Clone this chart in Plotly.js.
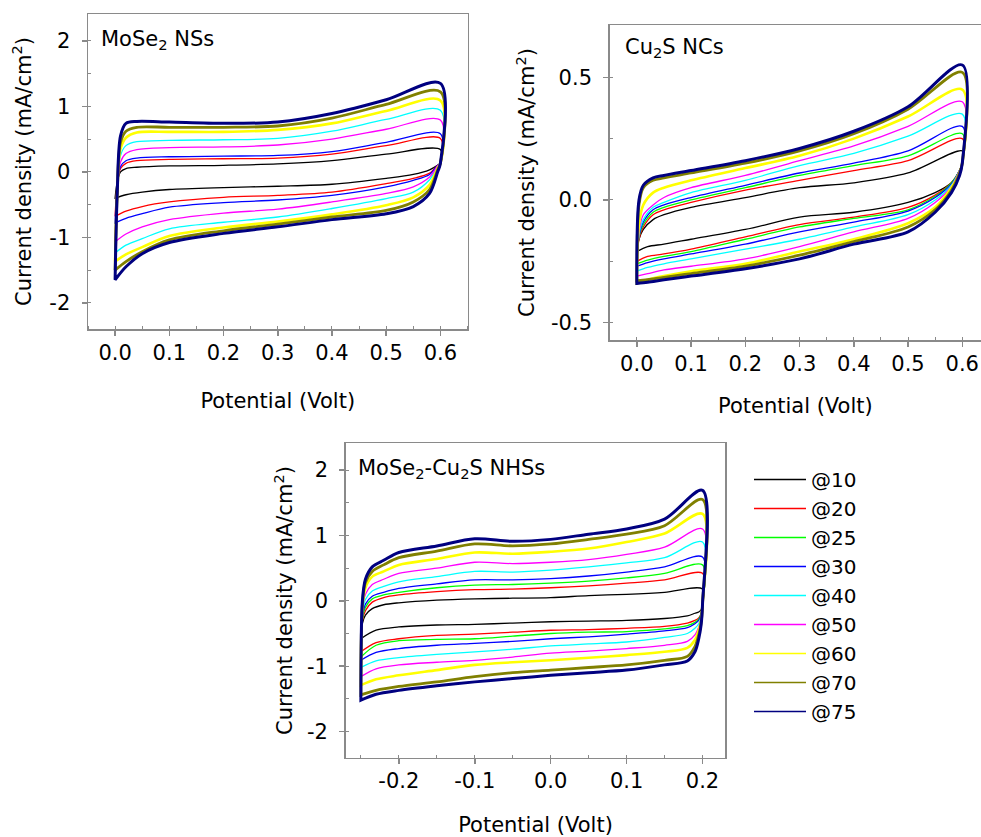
<!DOCTYPE html>
<html>
<head>
<meta charset="utf-8">
<script src="https://cdn.plot.ly/plotly-3.0.1.min.js"></script>
<style>html,body{margin:0;padding:0;background:#fff;}#chart{width:981px;height:837px;}</style>
</head>
<body>
<div id="chart"></div>
<script>
// ---------- shared ----------
const rates = ["@10", "@20", "@25", "@30", "@40", "@50", "@60", "@70", "@75"];
const colors = ["#000000", "#ff0000", "#00ff00", "#0000ff", "#00ffff", "#ff00ff", "#ffff00", "#808000", "#000080"];

// tick labels (hyphen minus as in the original)
const xTicks01 = [0, 0.1, 0.2, 0.3, 0.4, 0.5, 0.6];
const xLabels01 = ["0.0", "0.1", "0.2", "0.3", "0.4", "0.5", "0.6"];
const xTicks3 = [-0.2, -0.1, 0, 0.1, 0.2];
const xLabels3 = ["-0.2", "-0.1", "0.0", "0.1", "0.2"];
const yTicks13 = [-2, -1, 0, 1, 2];
const yLabels13 = ["-2", "-1", "0", "1", "2"];
const yTicks2 = [-0.5, 0, 0.5];
const yLabels2 = ["-0.5", "0.0", "0.5"];

// ---------- Panel 1: MoSe2 NSs (no @25 curve visible) ----------
const p1UpX = [0, 0.004, 0.01, 0.02, 0.04, 0.1, 0.2, 0.3, 0.4, 0.5, 0.6];
const p1DnX = [0.6, 0.595, 0.58, 0.55, 0.5, 0.4, 0.3, 0.2, 0.1, 0.05, 0.02, 0];
const p1Up = {
  "@10": [-0.40, -0.15, 0.00, 0.05, 0.07, 0.09, 0.10, 0.12, 0.17, 0.27, 0.34],
  "@20": [-0.68, -0.20, 0.05, 0.13, 0.17, 0.19, 0.20, 0.21, 0.27, 0.40, 0.51],
  "@30": [-0.78, -0.20, 0.08, 0.17, 0.21, 0.23, 0.24, 0.25, 0.31, 0.45, 0.58],
  "@40": [-1.24, -0.30, 0.25, 0.40, 0.46, 0.48, 0.49, 0.51, 0.62, 0.80, 0.94],
  "@50": [-1.07, -0.30, 0.15, 0.28, 0.34, 0.37, 0.38, 0.41, 0.50, 0.65, 0.79],
  "@60": [-1.37, -0.30, 0.35, 0.52, 0.60, 0.61, 0.61, 0.64, 0.74, 0.93, 1.09],
  "@70": [-1.50, -0.30, 0.45, 0.62, 0.68, 0.68, 0.68, 0.70, 0.82, 1.03, 1.22],
  "@75": [-1.65, -0.30, 0.55, 0.74, 0.77, 0.76, 0.74, 0.76, 0.89, 1.10, 1.35]
};
const p1Dn = {
  "@10": [0.13, 0.10, 0.03, -0.04, -0.10, -0.19, -0.22, -0.24, -0.27, -0.31, -0.35, -0.40],
  "@20": [0.13, 0.10, -0.02, -0.10, -0.18, -0.31, -0.36, -0.39, -0.46, -0.53, -0.60, -0.68],
  "@30": [0.13, 0.10, -0.04, -0.13, -0.23, -0.36, -0.43, -0.47, -0.54, -0.64, -0.71, -0.78],
  "@40": [0.13, 0.08, -0.12, -0.31, -0.41, -0.56, -0.69, -0.77, -0.87, -1.02, -1.12, -1.24],
  "@50": [0.13, 0.09, -0.08, -0.23, -0.33, -0.46, -0.57, -0.63, -0.73, -0.84, -0.95, -1.07],
  "@60": [0.13, 0.06, -0.20, -0.39, -0.51, -0.65, -0.76, -0.85, -0.98, -1.15, -1.26, -1.37],
  "@70": [0.13, 0.03, -0.27, -0.46, -0.59, -0.69, -0.80, -0.90, -1.04, -1.22, -1.37, -1.50],
  "@75": [0.13, 0.00, -0.33, -0.53, -0.64, -0.73, -0.84, -0.94, -1.08, -1.25, -1.45, -1.65]
};

// ---------- Panel 2: Cu2S NCs ----------
const p2UpX = [0, 0.004, 0.012, 0.03, 0.05, 0.1, 0.2, 0.3, 0.4, 0.5, 0.6];
const p2DnX = [0.6, 0.595, 0.58, 0.55, 0.5, 0.4, 0.3, 0.2, 0.1, 0.05, 0.02, 0];
const p2Up = {
  "@10": [-0.21, -0.16, -0.12, -0.08, -0.06, -0.03, 0.01, 0.05, 0.07, 0.11, 0.20],
  "@20": [-0.25, -0.16, -0.11, -0.06, -0.04, -0.01, 0.04, 0.08, 0.12, 0.16, 0.25],
  "@25": [-0.26, -0.15, -0.10, -0.05, -0.03, 0.00, 0.05, 0.10, 0.14, 0.18, 0.27],
  "@30": [-0.27, -0.15, -0.09, -0.04, -0.02, 0.01, 0.06, 0.11, 0.15, 0.20, 0.30],
  "@40": [-0.29, -0.14, -0.08, -0.03, -0.01, 0.03, 0.08, 0.14, 0.19, 0.26, 0.35],
  "@50": [-0.31, -0.13, -0.06, -0.02, 0.01, 0.05, 0.10, 0.16, 0.22, 0.30, 0.40],
  "@60": [-0.34, -0.10, -0.02, 0.03, 0.05, 0.08, 0.13, 0.18, 0.25, 0.34, 0.45],
  "@70": [-0.33, -0.02, 0.05, 0.08, 0.09, 0.11, 0.15, 0.20, 0.27, 0.37, 0.52],
  "@75": [-0.34, 0.00, 0.06, 0.09, 0.10, 0.12, 0.16, 0.21, 0.28, 0.38, 0.55]
};
const p2Dn = {
  "@10": [0.15, 0.12, 0.07, 0.03, -0.01, -0.05, -0.07, -0.12, -0.16, -0.18, -0.19, -0.21],
  "@20": [0.15, 0.12, 0.07, 0.02, -0.03, -0.07, -0.10, -0.15, -0.20, -0.22, -0.23, -0.25],
  "@25": [0.15, 0.12, 0.07, 0.015, -0.04, -0.075, -0.11, -0.16, -0.21, -0.23, -0.245, -0.26],
  "@30": [0.15, 0.12, 0.065, 0.01, -0.045, -0.09, -0.13, -0.18, -0.22, -0.24, -0.255, -0.27],
  "@40": [0.15, 0.12, 0.06, 0.00, -0.06, -0.11, -0.16, -0.20, -0.24, -0.26, -0.275, -0.29],
  "@50": [0.15, 0.12, 0.055, -0.01, -0.075, -0.13, -0.19, -0.24, -0.27, -0.285, -0.30, -0.31],
  "@60": [0.15, 0.11, 0.05, -0.03, -0.095, -0.16, -0.21, -0.26, -0.29, -0.31, -0.325, -0.34],
  "@70": [0.15, 0.11, 0.04, -0.04, -0.11, -0.17, -0.225, -0.27, -0.30, -0.315, -0.325, -0.33],
  "@75": [0.15, 0.10, 0.03, -0.05, -0.13, -0.18, -0.24, -0.28, -0.31, -0.325, -0.335, -0.34]
};

// ---------- Panel 3: MoSe2-Cu2S NHSs ----------
const p3UpX = [-0.25, -0.248, -0.244, -0.235, -0.22, -0.2, -0.15, -0.1, -0.05, 0, 0.05, 0.1, 0.15, 0.2];
const p3DnX = [0.2, 0.198, 0.195, 0.19, 0.18, 0.15, 0.1, 0.05, 0, -0.05, -0.1, -0.15, -0.2, -0.23, -0.25];
const p3Up = {
  "@10": [-0.58, -0.35, -0.22, -0.12, -0.06, -0.03, 0.01, 0.03, 0.04, 0.05, 0.08, 0.10, 0.13, 0.18],
  "@20": [-0.78, -0.30, -0.15, -0.02, 0.05, 0.09, 0.14, 0.17, 0.18, 0.20, 0.23, 0.27, 0.32, 0.42],
  "@25": [-0.86, -0.28, -0.10, 0.03, 0.09, 0.13, 0.20, 0.24, 0.25, 0.27, 0.30, 0.35, 0.42, 0.55],
  "@30": [-0.91, -0.25, -0.05, 0.07, 0.13, 0.19, 0.26, 0.32, 0.32, 0.34, 0.38, 0.44, 0.52, 0.67],
  "@40": [-1.02, -0.20, 0.02, 0.15, 0.22, 0.29, 0.37, 0.45, 0.44, 0.47, 0.52, 0.58, 0.66, 0.90],
  "@50": [-1.16, -0.15, 0.10, 0.25, 0.33, 0.42, 0.50, 0.59, 0.57, 0.59, 0.63, 0.71, 0.82, 1.10],
  "@60": [-1.29, -0.10, 0.20, 0.37, 0.45, 0.55, 0.64, 0.74, 0.72, 0.75, 0.80, 0.90, 1.03, 1.33],
  "@70": [-1.44, -0.05, 0.28, 0.45, 0.55, 0.66, 0.76, 0.87, 0.84, 0.87, 0.94, 1.02, 1.15, 1.55],
  "@75": [-1.52, 0.00, 0.33, 0.52, 0.62, 0.74, 0.84, 0.95, 0.91, 0.94, 1.02, 1.10, 1.25, 1.69]
};
const p3Dn = {
  "@10": [-0.05, -0.14, -0.17, -0.19, -0.23, -0.27, -0.30, -0.31, -0.32, -0.34, -0.36, -0.37, -0.40, -0.45, -0.58],
  "@20": [-0.05, -0.20, -0.26, -0.30, -0.34, -0.39, -0.42, -0.44, -0.45, -0.48, -0.51, -0.53, -0.58, -0.64, -0.78],
  "@25": [-0.05, -0.20, -0.28, -0.33, -0.38, -0.43, -0.47, -0.48, -0.50, -0.54, -0.58, -0.59, -0.61, -0.68, -0.86],
  "@30": [-0.05, -0.22, -0.30, -0.35, -0.41, -0.46, -0.51, -0.55, -0.58, -0.62, -0.65, -0.68, -0.73, -0.79, -0.91],
  "@40": [-0.05, -0.25, -0.35, -0.42, -0.50, -0.56, -0.63, -0.66, -0.69, -0.74, -0.78, -0.82, -0.87, -0.92, -1.02],
  "@50": [-0.05, -0.28, -0.40, -0.52, -0.62, -0.68, -0.73, -0.77, -0.80, -0.86, -0.91, -0.94, -0.98, -1.04, -1.16],
  "@60": [-0.05, -0.30, -0.45, -0.60, -0.72, -0.78, -0.83, -0.87, -0.91, -0.94, -0.98, -1.06, -1.14, -1.20, -1.29],
  "@70": [-0.05, -0.35, -0.52, -0.70, -0.85, -0.91, -0.98, -1.02, -1.06, -1.10, -1.16, -1.24, -1.31, -1.37, -1.44],
  "@75": [-0.05, -0.38, -0.58, -0.78, -0.92, -0.98, -1.06, -1.10, -1.14, -1.19, -1.24, -1.30, -1.37, -1.43, -1.52]
};

// ---------- build ----------
const FONT = "DejaVu Sans, Verdana, sans-serif";
const widths = {"@60": 2.6, "@70": 2.8, "@75": 3.0};
function loops(upX, dnX, up, dn, xa, ya) {
  const out = [];
  rates.forEach((r, i) => {
    if (!up[r]) return;
    out.push({
      type: "scatter", mode: "lines", name: r,
      x: upX.concat(dnX, [upX[0]]),
      y: up[r].concat(dn[r], [up[r][0]]),
      xaxis: xa, yaxis: ya,
      line: {color: colors[i], width: widths[r] || 1.3, shape: "spline", smoothing: 0.9},
      showlegend: false, hoverinfo: "skip"
    });
  });
  return out;
}
// legend entries: thin uniform lines like the original legend
const legendTraces = rates.map((r, i) => ({
  type: "scatter", mode: "lines", name: r, x: [null], y: [null],
  xaxis: "x3", yaxis: "y3", line: {color: colors[i], width: 1.6},
  showlegend: true, hoverinfo: "skip"
}));
const data = [].concat(
  loops(p1UpX, p1DnX, p1Up, p1Dn, "x", "y"),
  loops(p2UpX, p2DnX, p2Up, p2Dn, "x2", "y2"),
  loops(p3UpX, p3DnX, p3Up, p3Dn, "x3", "y3"),
  legendTraces
);

const GRAY = "#8a8a8a";
function xax(domain, range, anchor, tv, tt, standoff) {
  return {
    domain: domain, range: range, anchor: anchor,
    tickmode: "array", tickvals: tv, ticktext: tt,
    showline: true, linecolor: GRAY, linewidth: 1.5, mirror: true,
    ticks: "outside", ticklen: 5, tickcolor: GRAY, tickwidth: 1.5,
    minor: {tickmode: "linear", tick0: 0, dtick: 0.05, ticks: "inside", ticklen: 3, tickcolor: GRAY, tickwidth: 1},
    showgrid: false, zeroline: false, ticklabelstandoff: -1,
    tickfont: {family: FONT, size: 21, color: "#000"},
    title: {text: "Potential (Volt)", font: {family: FONT, size: 21, color: "#000"}, standoff: standoff}
  };
}
function yax(domain, range, anchor, tv, tt, minor, mirror, standoff) {
  return {
    domain: domain, range: range, anchor: anchor,
    tickmode: "array", tickvals: tv, ticktext: tt,
    showline: true, linecolor: GRAY, linewidth: 1.5, mirror: mirror,
    ticks: "outside", ticklen: 5, tickcolor: GRAY, tickwidth: 1.5,
    minor: {tickmode: "linear", tick0: 0, dtick: minor, ticks: "inside", ticklen: 3, tickcolor: GRAY, tickwidth: 1},
    showgrid: false, zeroline: false, ticklabelstandoff: 7,
    tickfont: {family: FONT, size: 21, color: "#000"},
    title: {text: "Current density (mA/cm<sup>2</sup>)", font: {family: FONT, size: 21, color: "#000"}, standoff: standoff}
  };
}
const W = 981, H = 837;
const layout = {
  width: W, height: H, margin: {l: 0, r: 0, t: 0, b: 0},
  paper_bgcolor: "#fff", plot_bgcolor: "#fff",
  font: {family: FONT, size: 20, color: "#000"},
  xaxis: xax([88 / W, 467.5 / W], [-0.05, 0.65], "y", xTicks01, xLabels01, 29),
  yaxis: yax([1 - 329 / H, 1 - 14 / H], [-2.4, 2.41], "x", yTicks13, yLabels13, 0.5, true, 12),
  xaxis2: xax([609.7 / W, 1], [-0.05, 0.6345], "y2", xTicks01, xLabels01, 23),
  yaxis2: yax([1 - 340 / H, 1 - 25 / H], [-0.5705, 0.713], "x2", yTicks2, yLabels2, 0.25, false, 10),
  xaxis3: xax([345.7 / W, 725.3 / W], [-0.27, 0.23], "y3", xTicks3, xLabels3, 27),
  yaxis3: yax([1 - 757.7 / H, 1 - 443.3 / H], [-2.4, 2.41], "x3", yTicks13, yLabels13, 0.5, true, 8),
  showlegend: true,
  legend: {
    x: 749 / W, y: 1 - 460 / H, xanchor: "left", yanchor: "top",
    font: {family: FONT, size: 20, color: "#000"}, itemwidth: 52,
    bgcolor: "rgba(0,0,0,0)", tracegroupgap: 0
  },
  annotations: [
    {text: "MoSe<sub>2</sub> NSs", x: 99 / W, y: 1 - 40 / H, xref: "paper", yref: "paper", xanchor: "left", yanchor: "middle", showarrow: false, font: {family: FONT, size: 21, color: "#000"}},
    {text: "Cu<sub>2</sub>S NCs", x: 623 / W, y: 1 - 48 / H, xref: "paper", yref: "paper", xanchor: "left", yanchor: "middle", showarrow: false, font: {family: FONT, size: 21, color: "#000"}},
    {text: "MoSe<sub>2</sub>-Cu<sub>2</sub>S NHSs", x: 356 / W, y: 1 - 469 / H, xref: "paper", yref: "paper", xanchor: "left", yanchor: "middle", showarrow: false, font: {family: FONT, size: 21, color: "#000"}}
  ]
};
Plotly.newPlot("chart", data, layout, {displayModeBar: false, staticPlot: true});
</script>
</body>
</html>
